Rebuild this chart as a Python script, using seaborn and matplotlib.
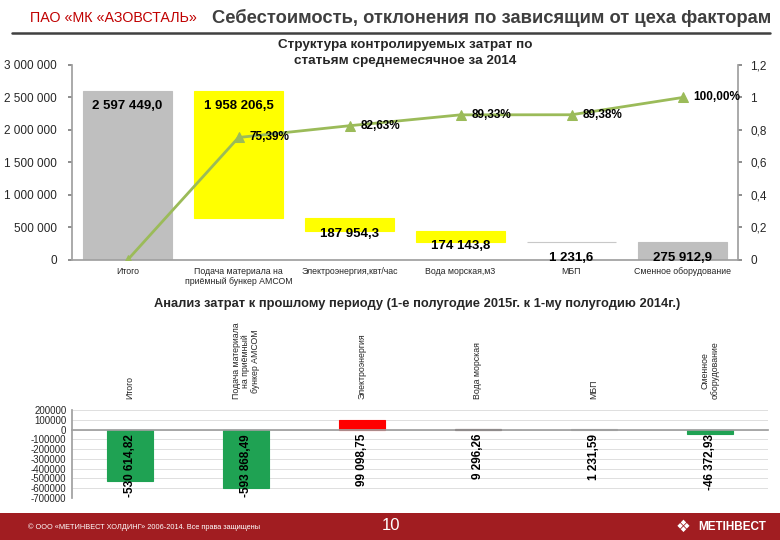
import matplotlib
matplotlib.use("Agg")
import matplotlib.pyplot as plt
from matplotlib.lines import Line2D
from matplotlib.patches import Rectangle
import numpy as np
import seaborn as sns

# --- top chart: monthly structure of controlled costs, 2014 ---
top_categories = [
    "Итого",
    "Подача материала на\nприёмный бункер АМСОМ",
    "Электроэнергия,квт/час",
    "Вода морская,м3",
    "МБП",
    "Сменное оборудование",
]
top_values = [2597449.0, 1958206.5, 187954.3, 174143.8, 1231.6, 275912.9]
top_colors = ["#BFBFBF", "#FFFF00", "#FFFF00", "#FFFF00", "#C8C8C8", "#BFBFBF"]
cum_share = [0.0, 75.39, 82.63, 89.33, 89.38, 100.00]

# --- bottom chart: deviation H1 2015 vs H1 2014 ---
dev_categories = [
    "Итого",
    "Подача материала\nна приёмный\nбункер АМСОМ",
    "Электроэнергия",
    "Вода морская",
    "МБП",
    "Сменное\nоборудование",
]
dev_values = [-530614.82, -593868.49, 99098.75, 9296.26, 1231.59, -46372.93]
dev_colors = ["#1FA253", "#1FA253", "#FF0000", "#2A1010", "#A6A6A6", "#1FA253"]

# label offsets for the waterfall values (layout only)
top_label_y = [2370000, 2370000, 400000, 215000, 30000, 30000]

W, H = 780, 540
sns.set_theme(style="white")
plt.rcParams["font.family"] = ["Liberation Sans", "DejaVu Sans"]


def fmt_num(v, dec):
    return f"{v:,.{dec}f}".replace(",", " ").replace(".", ",")


fig = plt.figure(figsize=(W / 100, H / 100), dpi=100)

# header
fig.text(30 / W, 1 - 18 / H, "ПАО «МК «АЗОВСТАЛЬ»", color="#C00000",
         fontsize=10.3, va="center", ha="left")
fig.text(212 / W, 1 - 18 / H,
         "Себестоимость, отклонения по зависящим от цеха факторам",
         color="#3F3F3F", fontsize=13.2, fontweight="bold", va="center", ha="left")
fig.add_artist(Line2D([12 / W, 770 / W], [1 - 33 / H] * 2, color="#404040", lw=1.8))

# top chart
ax = fig.add_axes([72 / W, 1 - 260 / H, (738 - 72) / W, (260 - 65) / H])
sns.barplot(x=top_categories, y=top_values, hue=top_categories, palette=top_colors,
            width=0.8, saturation=1, legend=False, edgecolor="none", ax=ax)
total = top_values[0]
bottoms = [0.0] + list(total - np.cumsum(top_values[1:]))
bottoms = [max(b, 0.0) for b in bottoms]
for patch, b in zip(ax.patches, bottoms):
    patch.set_y(b)
    patch.set_edgecolor(patch.get_facecolor())
    patch.set_linewidth(0.8)

for i, (v, ly) in enumerate(zip(top_values, top_label_y)):
    ax.text(i, ly, fmt_num(v, 1), ha="center", va="center",
            fontsize=9.5, fontweight="bold", color="black")

ax.set_ylim(0, 3000000)
ax.set_xlim(-0.5, len(top_categories) - 0.5)
ax.set_yticks(np.arange(0, 3000001, 500000))
ax.set_yticklabels([fmt_num(t, 0) for t in np.arange(0, 3000001, 500000)], fontsize=8.5)
ax.set_xticks(np.arange(len(top_categories)))
ax.set_xticklabels(top_categories, fontsize=6.3)
ax.set_xticks(np.arange(-0.5, len(top_categories)), minor=True)
ax.tick_params(axis="x", which="major", length=0, pad=5)
ax.tick_params(axis="x", which="minor", length=4, color="#808080", direction="out")
ax.tick_params(axis="y", length=3, color="#808080", direction="out", pad=8)
ax.set_xlabel("")
ax.set_ylabel("")
for side in ["left", "bottom"]:
    ax.spines[side].set_color("#A0A0A0")
for side in ["top", "right"]:
    ax.spines[side].set_visible(False)

ax2 = ax.twinx()
sns.lineplot(x=np.arange(len(cum_share)), y=np.array(cum_share) / 100, ax=ax2,
             color="#9BBB59", lw=2, marker="^", markersize=7,
             markeredgecolor="#9BBB59")
ax2.set_ylim(0, 1.2)
ax.set_xlim(-0.5, len(top_categories) - 0.5)
rticks = np.arange(0, 1.21, 0.2)
ax2.set_yticks(rticks)
ax2.set_yticklabels([f"{t:g}".replace(".", ",") for t in np.round(rticks, 1)], fontsize=8.5)
ax2.tick_params(axis="y", length=3, color="#808080", direction="out", pad=6)
ax2.set_ylabel("")
for side in ["top", "left", "bottom"]:
    ax2.spines[side].set_visible(False)
ax2.spines["right"].set_color("#A0A0A0")
for i, s in enumerate(cum_share):
    if i == 0:
        continue
    ax2.text(i + 0.1, s / 100, f"{s:.2f}%".replace(".", ","), ha="left", va="center",
             fontsize=8.5, fontweight="bold", color="black")

fig.text(405 / W, 1 - 53 / H, "Структура контролируемых затрат по\nстатьям среднемесячное за 2014",
         ha="center", va="center", fontsize=9.7, fontweight="bold", linespacing=1.4)

# bottom chart
fig.text(417 / W, 1 - 304 / H,
         "Анализ затрат к прошлому периоду (1-е полугодие 2015г. к 1-му полугодию 2014г.)",
         ha="center", va="center", fontsize=9.3, fontweight="bold")

bx = fig.add_axes([72 / W, 1 - 498 / H, (768 - 72) / W, (498 - 410) / H])
sns.barplot(x=dev_categories, y=dev_values, hue=dev_categories, palette=dev_colors,
            width=0.4, saturation=1, legend=False, edgecolor="none", ax=bx)
for patch in bx.patches:
    patch.set_edgecolor(patch.get_facecolor())
    patch.set_linewidth(0.8)
bx.set_ylim(-700000, 200000)
bx.set_xlim(-0.5, len(dev_categories) - 0.5)
yt = np.arange(-700000, 200001, 100000)
bx.set_yticks(yt)
bx.set_yticklabels([str(int(t)) for t in yt], fontsize=7)
bx.yaxis.grid(True, color="#D9D9D9", lw=0.6)
bx.set_axisbelow(True)
bx.set_xticks([])
bx.set_xticks(np.arange(0.5, len(dev_categories) - 0.5), minor=True)
bx.tick_params(axis="x", which="minor", length=4, color="#A0A0A0", direction="inout")
bx.tick_params(axis="y", length=2, color="#A0A0A0", pad=2)
bx.set_xlabel("")
bx.set_ylabel("")
bx.spines["bottom"].set_position(("data", 0))
bx.spines["bottom"].set_color("#A0A0A0")
bx.spines["left"].set_color("#A0A0A0")
for side in ["top", "right"]:
    bx.spines[side].set_visible(False)

for i, v in enumerate(dev_values):
    bx.text(i, -45000, fmt_num(v, 2), rotation=90, ha="center", va="top",
            fontsize=8.5, fontweight="bold", color="black")
for i, c in enumerate(dev_categories):
    bx.text(i, 1.12, c, rotation=90, ha="center", va="bottom", fontsize=6.3,
            transform=bx.get_xaxis_transform(), linespacing=1.1)

# footer
fig.add_artist(Rectangle((0, 0), 1, 27 / H, transform=fig.transFigure,
                         facecolor="#A11D21", edgecolor="none"))
fig.text(28 / W, 13 / H, "© ООО «МЕТИНВЕСТ ХОЛДИНГ» 2006-2014. Все права защищены",
         color="white", fontsize=5.3, va="center", ha="left")
fig.text(391 / W, 14 / H, "10", color="white", fontsize=12, va="center", ha="center")
fig.text(683 / W, 13 / H, "❖", color="white", fontsize=12, va="center", ha="center",
         family=["DejaVu Sans"])
fig.text(698 / W, 13 / H, "МЕТІНВЕСТ", color="white", fontsize=8.5,
         fontweight="bold", va="center", ha="left")

fig.savefig("out.png", dpi=100)
